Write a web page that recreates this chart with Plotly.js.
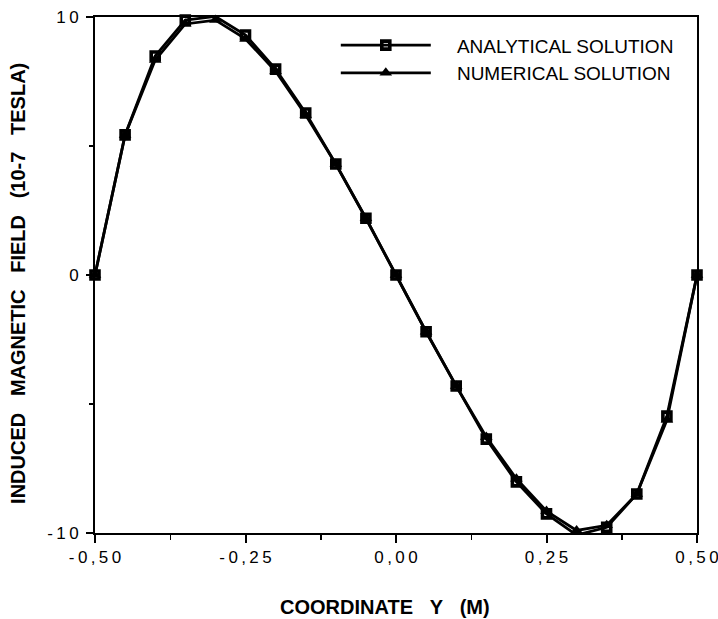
<!DOCTYPE html>
<html>
<head>
<meta charset="utf-8">
<script src="https://cdn.plot.ly/plotly-3.0.1.min.js"></script>
<style>
  html, body { margin: 0; padding: 0; background: #ffffff; }
  #chart { width: 718px; height: 619px; }
</style>
</head>
<body>
<div id="chart"></div>
<script>
// Coordinate Y (m) of each sample
const coordY = [-0.50, -0.45, -0.40, -0.35, -0.30, -0.25, -0.20, -0.15, -0.10, -0.05,
                0.00, 0.05, 0.10, 0.15, 0.20, 0.25, 0.30, 0.35, 0.40, 0.45, 0.50];

// Induced magnetic field (1e-7 T)
const analytical = [0, 5.43, 8.49, 9.88, 10.02, 9.30, 7.98, 6.28, 4.30, 2.20,
                    0, -2.20, -4.30, -6.36, -8.02, -9.26, -10.08, -9.78, -8.49, -5.47, 0];
const numerical  = [0, 5.43, 8.33, 9.73, 9.88, 9.15, 7.90, 6.20, 4.30, 2.20,
                    0, -2.20, -4.30, -6.28, -7.90, -9.15, -9.90, -9.70, -8.49, -5.62, 0];

const seriesNames = ['ANALYTICAL SOLUTION', 'NUMERICAL SOLUTION'];

const xTickVals = [-0.5, -0.25, 0, 0.25, 0.5];
const xTickText = ['-0,50', '-0,25', '0,00', '0,25', '0,50'];
const yTickVals = [-10, 0, 10];
const yTickText = ['-10', '0', '10'];

// widen the digits a little, like the typewriter-style labels
const spaced = s => s.split('').join('\u2009');
const NB = '&nbsp;';
const gap = n => NB.repeat(n);

const FONT = 'Liberation Sans, Arial, Helvetica, sans-serif';

const traces = [
  {
    x: coordY, y: analytical, name: gap(4) + seriesNames[0],
    type: 'scatter', mode: 'lines+markers', cliponaxis: false,
    line: { color: '#000000', width: 2.8 },
    marker: { symbol: 'square-open', size: 8, color: '#000000',
              line: { color: '#000000', width: 3.6 } }
  },
  {
    x: coordY, y: numerical, name: gap(4) + seriesNames[1],
    type: 'scatter', mode: 'lines+markers', cliponaxis: false,
    line: { color: '#000000', width: 2.8 },
    marker: { symbol: 'triangle-up', size: 11, color: '#000000',
              line: { width: 0 } }
  }
];

const layout = {
  width: 718, height: 619,
  margin: { l: 95, r: 21, t: 17, b: 86 },
  paper_bgcolor: '#ffffff', plot_bgcolor: '#ffffff',
  font: { family: FONT, color: '#000000', size: 16 },
  showlegend: true,
  legend: {
    x: 0.40, y: 0.982, xanchor: 'left', yanchor: 'top',
    bgcolor: 'rgba(0,0,0,0)', borderwidth: 0,
    itemwidth: 90,
    font: { family: FONT, size: 19, color: '#000000' },
    tracegroupgap: 0
  },
  xaxis: {
    range: [-0.5, 0.5],
    showgrid: false, zeroline: false,
    showline: true, linecolor: '#000000', linewidth: 2, mirror: true,
    ticks: 'outside', ticklen: 8, tickwidth: 2, tickcolor: '#000000',
    tickmode: 'array', tickvals: xTickVals, ticktext: xTickText.map(spaced),
    ticklabeloverflow: 'allow',
    tickfont: { family: FONT, size: 17 },
    minor: { tickmode: 'linear', tick0: -0.375, dtick: 0.25, ticks: 'outside',
             ticklen: 5, tickwidth: 1.5, tickcolor: '#000000', showgrid: false },
    title: { text: 'COORDINATE' + gap(3) + 'Y' + gap(3) + '(M)' + gap(4), standoff: 34,
             font: { family: FONT, size: 20, weight: 'bold' } }
  },
  yaxis: {
    range: [-10, 10],
    showgrid: false, zeroline: false,
    showline: true, linecolor: '#000000', linewidth: 2, mirror: true,
    ticks: 'outside', ticklen: 7, tickwidth: 2, tickcolor: '#000000',
    tickmode: 'array', tickvals: yTickVals, ticktext: yTickText.map(spaced),
    ticklabelstandoff: 4,
    tickfont: { family: FONT, size: 17 },
    minor: { tickmode: 'linear', tick0: -5, dtick: 10, ticks: 'outside',
             ticklen: 4, tickwidth: 1.5, tickcolor: '#000000', showgrid: false },
    title: { text: 'INDUCED' + gap(3) + 'MAGNETIC' + gap(3) + 'FIELD' + gap(3) +
                   '(10-7' + gap(3) + 'TESLA)' + gap(3),
             standoff: 16,
             font: { family: FONT, size: 20, weight: 'bold' } }
  }
};

Plotly.newPlot('chart', traces, layout, { staticPlot: true, displayModeBar: false });
</script>
</body>
</html>
